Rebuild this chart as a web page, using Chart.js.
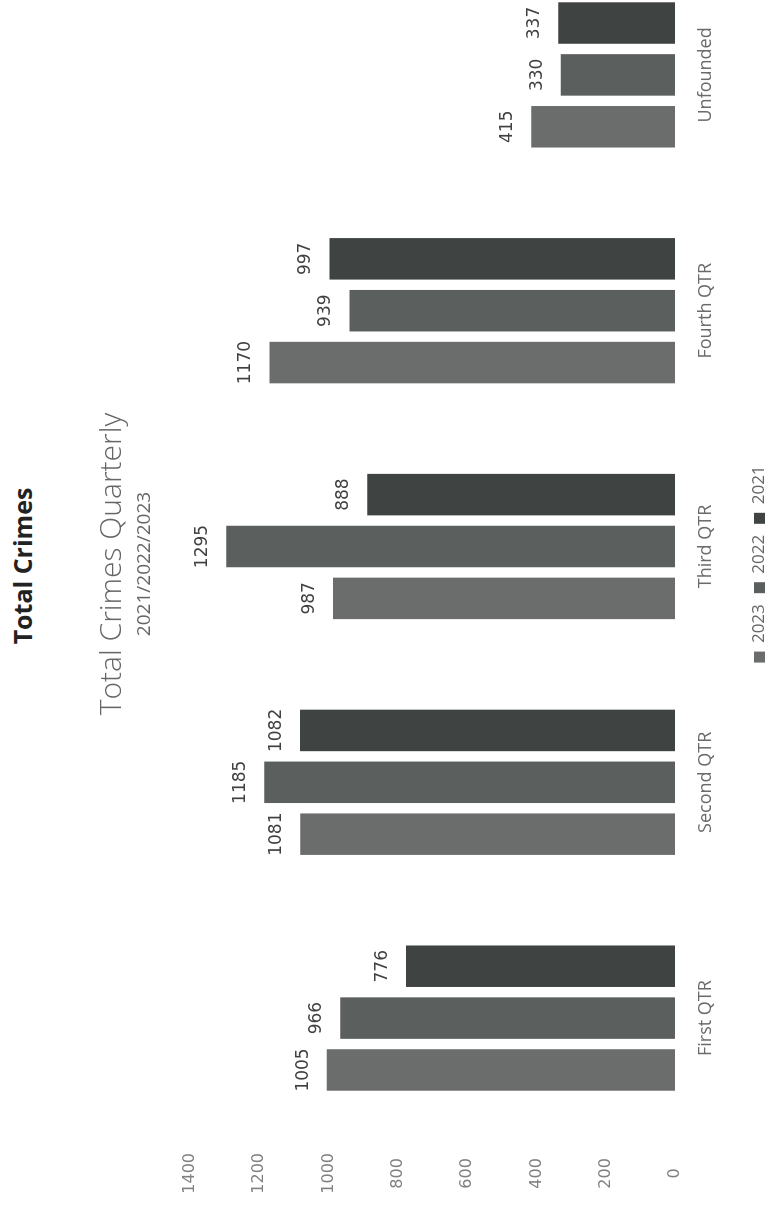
<!DOCTYPE html>
<html>
<head>
<meta charset="utf-8">
<script src="https://cdn.jsdelivr.net/npm/chart.js@4.4.1/dist/chart.umd.min.js"></script>
<style>
  html, body { margin: 0; padding: 0; background: #fff; overflow: hidden; }
  body { width: 773px; height: 1209px; position: relative; }
  /* chart is laid out landscape and turned a quarter turn, like the scan */
  #wrap {
    position: absolute; left: 0; top: 0;
    width: 1290px; height: 790px;
    transform-origin: 0 0;
    transform: translate(0px, 1209px) rotate(-90deg);
  }
  #heading {
    position: absolute; left: 0; top: 5px; width: 1286px;
    text-align: center; font: bold 25px 'Open Sans', sans-serif; color: #222;
  }
  #chartCanvas { position: absolute; left: 0; top: 0; }
</style>
</head>
<body>
<div id="wrap">
  <div id="heading">Total Crimes</div>
  <canvas id="chartCanvas" width="1290" height="790"></canvas>
</div>
<script>
const categories = ['First QTR', 'Second QTR', 'Third QTR', 'Fourth QTR', 'Unfounded'];
const crimes2023 = [1005, 1081, 987, 1170, 415];
const crimes2022 = [966, 1185, 1295, 939, 330];
const crimes2021 = [776, 1082, 888, 997, 337];
const yTicks = [0, 200, 400, 600, 800, 1000, 1200, 1400];

const chartCanvas = document.getElementById('chartCanvas');

// draws the number above every bar
const valueLabels = {
    id: 'valueLabels',
    afterDatasetsDraw(chart) {
        const ctx = chart.ctx;
        ctx.save();
        ctx.font = '17px "DejaVu Sans"';
        ctx.fillStyle = '#404040';
        ctx.textAlign = 'center';
        ctx.textBaseline = 'bottom';
        chart.data.datasets.forEach((ds, i) => {
            chart.getDatasetMeta(i).data.forEach((bar, j) => {
                ctx.fillText(ds.data[j], bar.x, bar.y - 15);
            });
        });
        ctx.restore();
    }
};

const myChart = new Chart(chartCanvas, {
    type: 'bar',
    data: {
        labels: categories,
        datasets: [
            { label: '2023', data: crimes2023, backgroundColor: '#6a6d6b' },
            { label: '2022', data: crimes2022, backgroundColor: '#5b5f5d' },
            { label: '2021', data: crimes2021, backgroundColor: '#3f4341' }
        ]
    },
    options: {
        responsive: false,
        animation: false,
        categoryPercentage: 0.66,
        barPercentage: 0.8,
        layout: { padding: { left: 0, right: 0, top: 0, bottom: 12 } },
        plugins: {
            title: {
                display: true,
                text: 'Total Crimes Quarterly',
                color: '#666',
                font: { family: 'Open Sans', size: 30, weight: 300 },
                padding: { top: 94, bottom: 0 }
            },
            subtitle: {
                display: true,
                text: '2021/2022/2023',
                color: '#666',
                font: { family: 'Open Sans', size: 19 },
                padding: { top: 3, bottom: 34 }
            },
            legend: {
                position: 'bottom',
                labels: {
                    color: '#666',
                    font: { family: 'Open Sans', size: 17 },
                    boxWidth: 11,
                    boxHeight: 11,
                    padding: 11
                }
            },
            tooltip: { enabled: false }
        },
        scales: {
            x: {
                grid: { display: false, drawTicks: false },
                border: { display: false },
                ticks: { color: '#6a6a6a', font: { family: 'Open Sans', size: 18 }, padding: 20 },
                afterFit: (scale) => { scale.height = 65; }
            },
            y: {
                min: 0,
                max: 1400,
                grid: { display: false, drawTicks: false },
                border: { display: false },
                ticks: {
                    stepSize: 200,
                    color: '#808080',
                    font: { family: 'DejaVu Sans', size: 16 },
                    padding: 17,
                    crossAlign: 'center',
                    callback: (v) => yTicks.includes(v) ? String(v) : ''
                },
                afterFit: (scale) => { scale.width = 73; }
            },
            // empty right-hand strip so the plot ends where the scan's does
            yRight: {
                position: 'right',
                min: 0,
                max: 1400,
                grid: { display: false, drawTicks: false },
                border: { display: false },
                ticks: { display: false },
                afterFit: (scale) => { scale.width = 38; }
            }
        }
    },
    plugins: [valueLabels]
});
</script>
</body>
</html>
